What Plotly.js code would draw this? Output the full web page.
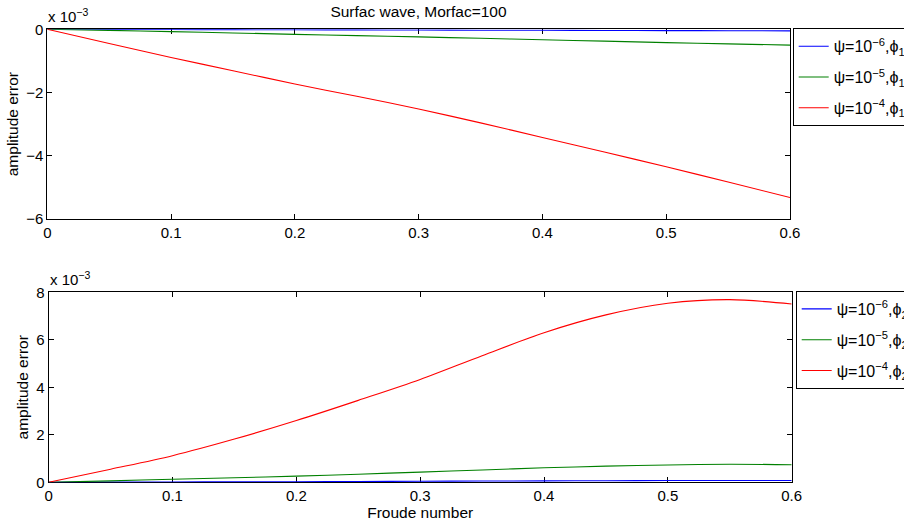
<!DOCTYPE html>
<html>
<head>
<meta charset="utf-8">
<script src="https://cdn.plot.ly/plotly-3.0.1.min.js"></script>
<style>html,body{margin:0;padding:0;background:#fff;overflow:hidden;}#wrap{width:904px;height:525px;overflow:hidden;}#chart{width:960px;height:525px;}</style>
</head>
<body>
<div id="wrap"><div id="chart"></div></div>
<script>
// Froude number samples
const froude = [0, 0.05, 0.1, 0.15, 0.2, 0.25, 0.3, 0.35, 0.4, 0.45, 0.5, 0.55, 0.6];

// Top panel (phi_1), amplitude error in units of 1e-3
const phi1Psi6 = [0, -0.003, -0.007, -0.011, -0.015, -0.019, -0.023, -0.028, -0.032, -0.037, -0.041, -0.045, -0.05];
const phi1Psi5 = [0, -0.035, -0.075, -0.115, -0.16, -0.20, -0.24, -0.285, -0.33, -0.375, -0.42, -0.46, -0.50];
const phi1Psi4 = [0, -0.45, -0.89, -1.31, -1.73, -2.12, -2.52, -2.96, -3.42, -3.88, -4.35, -4.83, -5.32];

// Bottom panel (phi_2), amplitude error in units of 1e-3
const phi2Psi6 = [0, 0.006, 0.013, 0.019, 0.026, 0.034, 0.043, 0.052, 0.061, 0.068, 0.073, 0.076, 0.074];
const phi2Psi5 = [0, 0.06, 0.13, 0.19, 0.26, 0.34, 0.43, 0.52, 0.61, 0.68, 0.73, 0.76, 0.74];
const phi2Psi4 = [0, 0.55, 1.12, 1.82, 2.60, 3.45, 4.33, 5.33, 6.30, 7.05, 7.54, 7.69, 7.51];

const xTicks = [0, 0.1, 0.2, 0.3, 0.4, 0.5, 0.6];
const xTickText = ['0', '0.1', '0.2', '0.3', '0.4', '0.5', '0.6'];
const topNames = ['ψ=10<sup>−6</sup>,ϕ<sub>1</sub>', 'ψ=10<sup>−5</sup>,ϕ<sub>1</sub>', 'ψ=10<sup>−4</sup>,ϕ<sub>1</sub>'];
const botNames = ['ψ=10<sup>−6</sup>,ϕ<sub>2</sub>', 'ψ=10<sup>−5</sup>,ϕ<sub>2</sub>', 'ψ=10<sup>−4</sup>,ϕ<sub>2</sub>'];
const colors = ['#0000ff', '#008000', '#ff0000'];

const FONT = 'Liberation Sans, Arial, Helvetica, sans-serif';
const W = 960, H = 525;   // paper is wider than the 904px window so the legends run off the edge
const topSeries = [phi1Psi6, phi1Psi5, phi1Psi4];
const botSeries = [phi2Psi6, phi2Psi5, phi2Psi4];

const traces = [];
topSeries.forEach((s, i) => traces.push({
  x: froude, y: s, type: 'scatter', mode: 'lines', name: topNames[i],
  line: {color: colors[i], width: 1.1, shape: 'spline', smoothing: 0.9},
  xaxis: 'x', yaxis: 'y', legend: 'legend', legendgroup: 't' + i
}));
botSeries.forEach((s, i) => traces.push({
  x: froude, y: s, type: 'scatter', mode: 'lines', name: botNames[i],
  line: {color: colors[i], width: 1.1, shape: 'spline', smoothing: 0.9},
  xaxis: 'x2', yaxis: 'y2', legend: 'legend2', legendgroup: 'b' + i
}));

function axisBase() {
  return {
    showline: true, linecolor: '#000', linewidth: 1, mirror: 'ticks',
    ticks: 'inside', ticklen: 5, tickcolor: '#000', tickwidth: 1,
    showgrid: false, zeroline: false, layer: 'below traces',
    tickfont: {family: FONT, size: 15, color: '#000'}, automargin: false
  };
}

const legendBase = {
  bgcolor: '#fff', bordercolor: '#000', borderwidth: 1,
  font: {family: FONT, size: 16, color: '#000'},
  xanchor: 'left', yanchor: 'top', traceorder: 'grouped', tracegroupgap: 7,
  itemwidth: 30
};

const px = v => v / W;
const py = v => 1 - v / H;

const layout = {
  width: W, height: H,
  margin: {l: 0, r: 0, t: 0, b: 0},
  paper_bgcolor: '#fff', plot_bgcolor: '#fff',
  showlegend: true,
  font: {family: FONT, size: 15, color: '#000'},
  title: {text: 'Surfac wave, Morfac=100', font: {family: FONT, size: 15.5, color: '#000'},
          x: px(418.5), xanchor: 'center', xref: 'paper', y: py(12), yanchor: 'middle', yref: 'paper'},
  xaxis: Object.assign(axisBase(), {domain: [px(47.3), px(790)], anchor: 'y', range: [0, 0.6],
    tickvals: xTicks, ticktext: xTickText}),
  yaxis: Object.assign(axisBase(), {domain: [py(219), py(29.3)], anchor: 'x', range: [-6, 0],
    tickvals: [-6, -4, -2, 0],
    title: {text: 'amplitude error', font: {family: FONT, size: 15.5, color: '#000'}, standoff: 3}}),
  xaxis2: Object.assign(axisBase(), {domain: [px(48.7), px(791.7)], anchor: 'y2', range: [0, 0.6],
    tickvals: xTicks, ticktext: xTickText,
    title: {text: 'Froude number', font: {family: FONT, size: 15.5, color: '#000'}, standoff: 0}}),
  yaxis2: Object.assign(axisBase(), {domain: [py(482.3), py(292.3)], anchor: 'x2', range: [0, 8],
    tickvals: [0, 2, 4, 6, 8],
    title: {text: 'amplitude error', font: {family: FONT, size: 15.5, color: '#000'}, standoff: 3}}),
  legend: Object.assign({}, legendBase, {x: px(792.7), y: py(28.3)}),
  legend2: Object.assign({}, legendBase, {x: px(795.7), y: py(291)}),
  annotations: [
    {text: 'x 10<sup>−3</sup>', xref: 'paper', yref: 'paper', x: px(46.1), y: py(27),
     xanchor: 'left', yanchor: 'bottom', showarrow: false, font: {family: FONT, size: 15, color: '#000'}},
    {text: 'x 10<sup>−3</sup>', xref: 'paper', yref: 'paper', x: px(47.9), y: py(290),
     xanchor: 'left', yanchor: 'bottom', showarrow: false, font: {family: FONT, size: 15, color: '#000'}}
  ]
};

Plotly.newPlot('chart', traces, layout, {displayModeBar: false, staticPlot: true});
</script>
</body>
</html>
